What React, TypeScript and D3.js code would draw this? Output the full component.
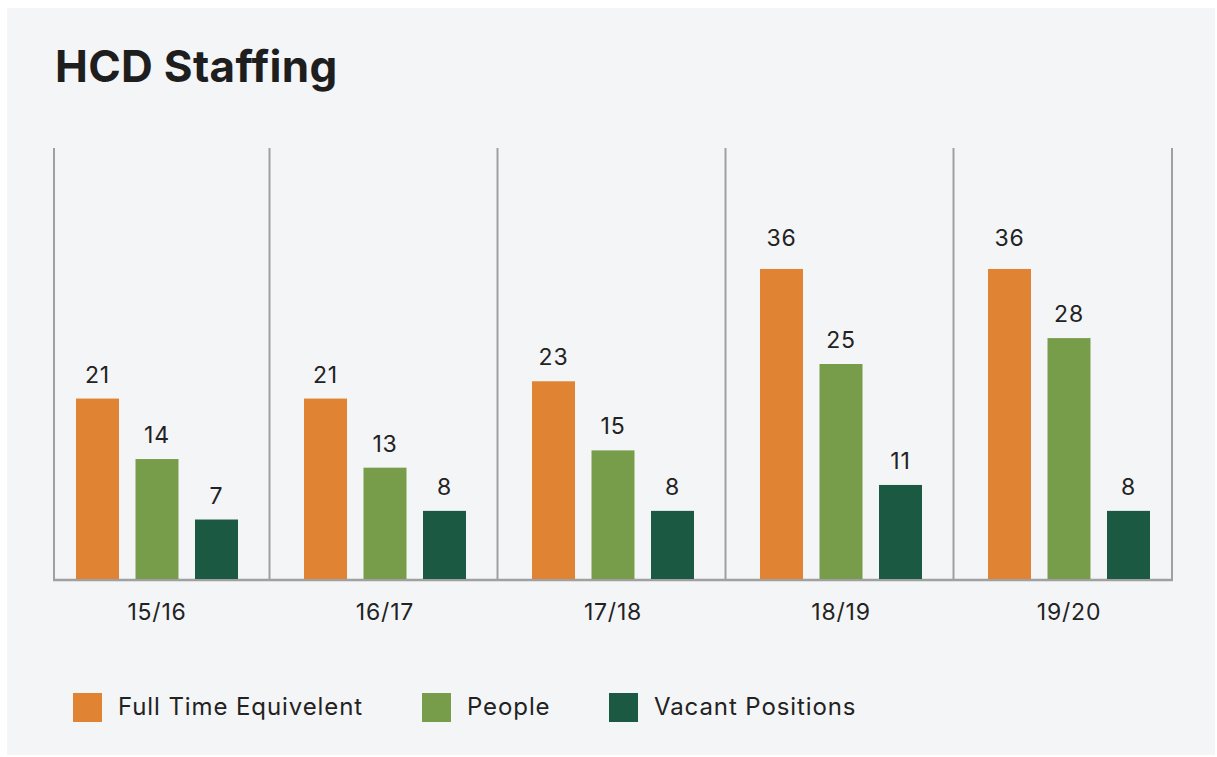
import React from 'react';
import * as d3 from 'd3';

const title = 'HCD Staffing';
const years = ['15/16', '16/17', '17/18', '18/19', '19/20'];
const seriesNames = ['Full Time Equivelent', 'People', 'Vacant Positions'];
const fte = [21, 21, 23, 36, 36];
const people = [14, 13, 15, 25, 28];
const vacant = [7, 8, 8, 11, 8];
const colors = ['#e08434', '#789d4a', '#1c5942'];

const App = () => {
  const width = 1217;
  const height = 757;
  const left = 54;
  const right = 1172;
  const base = 580;
  const top = 148;
  const font = 'Inter, "Noto Sans", sans-serif';

  const values = [fte, people, vacant];

  // group bands (228px each), axis clipped to [left, right]
  const groupStep = 228;
  const x0 = d3.scaleBand().domain(years).range([43, 43 + groupStep * years.length]).padding(0);
  const barStep = 59.5;
  const barW = 43;
  const innerLen = barStep * 2 + barW;
  const x1 = d3
    .scaleBand()
    .domain(seriesNames)
    .range([0, innerLen])
    .paddingInner((barStep - barW) / barStep)
    .paddingOuter(0);
  const y = d3.scaleLinear().domain([0, 50]).range([base, top]);

  const groupOffset = (x0.bandwidth() - innerLen) / 2;
  const edges = [left].concat(years.slice(1).map(yr => x0(yr) - 1.5), [right]);

  const legendX = [73, 422, 609];

  return (
    <svg
      width={width}
      height={height}
      style={{ position: 'absolute', left: 0, top: 0, background: '#fff' }}
    >
      <rect x={7} y={8} width={1208} height={747} fill="#f4f5f7" />
      <text x={55} y={82} fontFamily={font} fontWeight={700} fontSize={44} letterSpacing={0.3} fill="#1e1e1e">
        {title}
      </text>

      {edges.map((e, i) => (
        <line key={i} x1={e} x2={e} y1={y(50)} y2={base} stroke="#a0a0a0" strokeWidth={2} />
      ))}
      <line x1={left - 1} x2={right + 1} y1={base} y2={base} stroke="#a0a0a0" strokeWidth={2.5} />

      {years.map((yr, gi) => (
        <g key={yr} transform={`translate(${x0(yr) + groupOffset},0)`}>
          {seriesNames.map((s, si) => {
            const v = values[si][gi];
            const bx = x1(s);
            return (
              <g key={s}>
                <rect x={bx} y={y(v)} width={x1.bandwidth()} height={base - y(v) - 1} fill={colors[si]} />
                <text
                  x={bx + x1.bandwidth() / 2}
                  y={y(v) - (v >= 36 ? 23 : 16)}
                  textAnchor="middle"
                  fontFamily={font}
                  fontSize={23}
                  letterSpacing={0.8}
                  fill="#222"
                >
                  {v}
                </text>
              </g>
            );
          })}
          <text
            x={innerLen / 2}
            y={620}
            textAnchor="middle"
            fontFamily={font}
            fontSize={23}
            letterSpacing={0.8}
            fill="#222"
          >
            {yr}
          </text>
        </g>
      ))}

      {seriesNames.map((s, i) => (
        <g key={s} transform={`translate(${legendX[i]},693)`}>
          <rect width={29} height={29} fill={colors[i]} />
          <text x={45} y={22} fontFamily={font} fontSize={24} letterSpacing={0.9} fill="#222">
            {s}
          </text>
        </g>
      ))}
    </svg>
  );
};

export default App;
